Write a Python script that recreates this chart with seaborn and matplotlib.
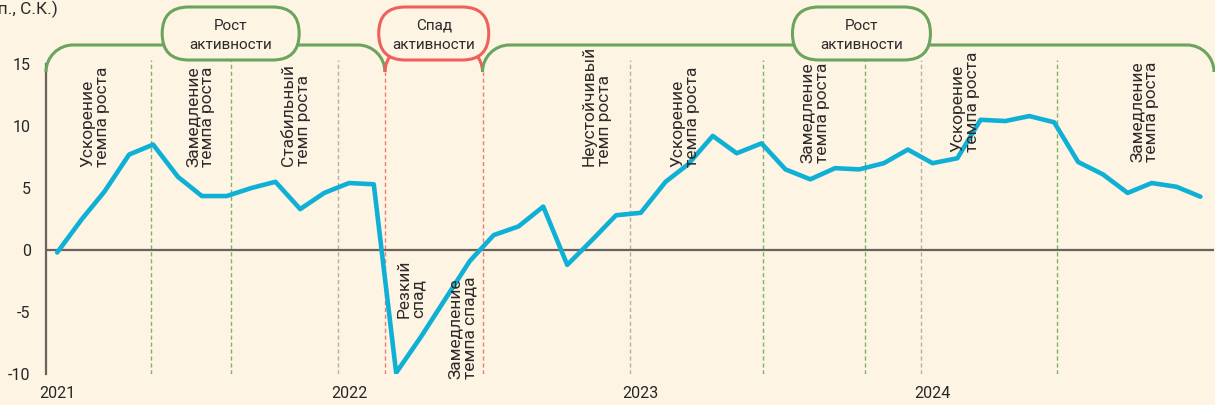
import numpy as np
import pandas as pd
import seaborn as sns
import matplotlib.pyplot as plt
from matplotlib.path import Path
from matplotlib.patches import PathPatch, FancyBboxPatch

# Индикатор деловой активности по месяцам (янв 2021 - дек 2024)
months = pd.date_range('2021-01-01', periods=48, freq='MS') + pd.Timedelta(days=14)
values = [-0.2, 2.5, 4.7, 7.7, 8.5, 5.9, 4.35, 4.35, 5.0, 5.5, 3.3, 4.6,
          5.4, 5.3, -9.9, -7.0, -4.0, -0.9, 1.2, 1.9, 3.5, -1.2, 0.8, 2.8,
          3.0, 5.5, 6.9, 9.2, 7.8, 8.6, 6.5, 5.7, 6.6, 6.5, 7.0, 8.1,
          7.0, 7.4, 10.5, 10.4, 10.8, 10.3, 7.1, 6.1, 4.6, 5.4, 5.1, 4.3]

years = ['2021', '2022', '2023', '2024']
year_ticks = pd.to_datetime(['2021-01-15', '2022-01-15', '2023-01-15', '2024-01-15'])
year_lines = pd.to_datetime(['2022-01-01', '2023-01-01', '2024-01-01'])
phase_lines = pd.to_datetime(['2021-05-12', '2021-08-20', '2023-06-17', '2023-10-22', '2024-06-18'])
crisis_lines = pd.to_datetime(['2022-03-01', '2022-07-01'])

# фазы цикла (подписи вдоль оси)
stage_labels = ['Ускорение\nтемпа роста', 'Замедление\nтемпа роста', 'Стабильный\nтемп роста',
                'Резкий\nспад', 'Замедление\nтемпа спада', 'Неустойчивый\nтемп роста',
                'Ускорение\nтемпа роста', 'Замедление\nтемпа роста', 'Ускорение\nтемпа роста',
                'Замедление\nтемпа роста']
stage_pos = pd.to_datetime(['2021-03-04', '2021-07-13', '2021-11-10', '2022-04-03', '2022-06-06',
                            '2022-11-21', '2023-03-11', '2023-08-21', '2024-02-25', '2024-10-06'])
stage_base = [6.7, 6.7, 6.8, -5.5, -10.4, 6.8, 6.7, 7.0, 7.9, 7.1]

# верхние скобки: подпись, начало, конец, центр плашки, ширина плашки (px)
top_phases = [('Рост\nактивности', '2021-01-01', '2022-03-01', '2021-08-20', 137, 'green'),
              ('Спад\nактивности', '2022-03-01', '2022-07-01', '2022-05-01', 110, 'red'),
              ('Рост\nактивности', '2022-07-01', '2025-01-01', '2023-10-18', 138, 'green')]

bg = '#fdf4e3'
cyan = '#0fb0d6'
green = '#6ba45c'
red = '#f0605b'
axis_c = '#6b625b'
txt_c = '#2e2a2a'

sns.set_theme(style='white')
plt.rcParams['font.family'] = ['Roboto', 'DejaVu Sans']
plt.rcParams['text.color'] = txt_c

fig = plt.figure(figsize=(12.15, 4.05), dpi=100, facecolor=bg)
ax = fig.add_axes([46 / 1215, 31 / 405, 1168 / 1215, 374 / 405])
ax.set_facecolor(bg)

ax.set_xlim(pd.Timestamp('2021-01-01'), pd.Timestamp('2025-01-01'))
ax.set_ylim(-10, 20.16)

ax.vlines(year_lines, -10, 15.3, colors='#b8afa6', linestyles=(0, (3, 2)), lw=1)
ax.vlines(phase_lines, -10, 15.3, colors='#7cb46b', linestyles=(0, (3, 2)), lw=1)
ax.vlines(crisis_lines, -10, 14.35, colors='#f27a74', linestyles=(0, (3, 2)), lw=1)
ax.axhline(0, color=axis_c, lw=1.6, zorder=2)

sns.lineplot(x=months, y=values, ax=ax, color=cyan, linewidth=3.3, zorder=3)

for lab, pos, base in zip(stage_labels, stage_pos, stage_base):
    ax.text(pos, base, lab, rotation=90, ha='center', va='bottom',
            multialignment='left', fontsize=12.5, linespacing=0.98, color=txt_c)

for s in ['top', 'right', 'bottom']:
    ax.spines[s].set_visible(False)
ax.spines['left'].set_bounds(-10, 15)
ax.spines['left'].set_color(axis_c)
ax.spines['left'].set_linewidth(1.6)
ax.set_yticks([-10, -5, 0, 5, 10, 15])
ax.set_yticklabels(['-10', '-5', '0', '5', '10', '15'], fontsize=11.5)
ax.tick_params(axis='y', direction='out', length=5, width=1.3, color=axis_c, pad=6)
ax.set_xticks(year_ticks)
ax.set_xticklabels(years, fontsize=11.5)
ax.tick_params(axis='x', length=0, pad=9)
ax.set_xlabel('')
ax.set_ylabel('')

# скобки над графиком в пикселях фигуры
ov = fig.add_axes([0, 0, 1, 1], zorder=5)
ov.set_xlim(0, 1215)
ov.set_ylim(0, 405)
ov.axis('off')
ov.patch.set_alpha(0)

def to_px(d):
    return ax.transData.transform((ax.xaxis.convert_units(pd.Timestamp(d)), 0))[0]

y_end, y_top, r = 333, 360, 27
k = 0.552 * r
for lab, d0, d1, dc, w, col in top_phases:
    c = green if col == 'green' else red
    x0, x1, xc = to_px(d0), to_px(d1), to_px(dc)
    verts = [(x0, y_end), (x0, y_end + k), (x0 + r - k, y_top), (x0 + r, y_top),
             (x1 - r, y_top), (x1 - r + k, y_top), (x1, y_end + k), (x1, y_end)]
    codes = [Path.MOVETO, Path.CURVE4, Path.CURVE4, Path.CURVE4,
             Path.LINETO, Path.CURVE4, Path.CURVE4, Path.CURVE4]
    ov.add_patch(PathPatch(Path(verts, codes), fc='none', ec=c, lw=2.2, zorder=1))
    h = 53
    ov.add_patch(FancyBboxPatch((xc - w / 2, 345), w, h,
                                boxstyle=f'round,pad=0,rounding_size={h / 2}',
                                fc=bg, ec=c, lw=2.2, zorder=2))
    ov.text(xc, 369.5, lab, ha='center', va='center', fontsize=11,
            linespacing=1.5, color=txt_c, zorder=3)

fig.text(58 / 1215, 1 - 9 / 405, '(п.п., С.К.)', ha='right', va='center', fontsize=12.5, color=txt_c)

plt.savefig('out.png', dpi=100, facecolor=bg)
